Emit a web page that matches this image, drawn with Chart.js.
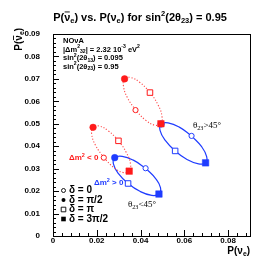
<!DOCTYPE html>
<html>
<head>
<meta charset="utf-8">
<script src="https://cdn.jsdelivr.net/npm/chart.js@4.4.1/dist/chart.umd.min.js"></script>
<style>
html, body { margin: 0; padding: 0; background: #fff; }
#wrap { width: 268px; height: 273px; }
</style>
</head>
<body>
<div id="wrap"><canvas id="nova" width="268" height="273"></canvas></div>
<script>
// values; each trace starts at delta = 0 and steps 30 degrees
const deltaLabels = ["δ = 0", "δ = π/2", "δ = π", "δ = 3π/2"];
const xTicks = [0, 0.02, 0.04, 0.06, 0.08];
const xTickLabels = ["0", "0.02", "0.04", "0.06", "0.08"];
const yTicks = [0, 0.01, 0.02, 0.03, 0.04, 0.05, 0.06, 0.07, 0.08, 0.09];
const yTickLabels = ["0", "0.01", "0.02", "0.03", "0.04", "0.05", "0.06", "0.07", "0.08", "0.09"];

// inverted hierarchy (red, dotted)
const redUpperX = [0.0377, 0.0340, 0.0322, 0.0327, 0.0355, 0.0397, 0.0443, 0.0480, 0.0498, 0.0493, 0.0465, 0.0423];
const redUpperY = [0.0561, 0.0616, 0.0667, 0.0700, 0.0706, 0.0684, 0.0639, 0.0584, 0.0533, 0.0500, 0.0494, 0.0516];
const redLowerX = [0.0232, 0.0195, 0.0177, 0.0183, 0.0211, 0.0253, 0.0299, 0.0336, 0.0354, 0.0348, 0.0320, 0.0278];
const redLowerY = [0.0349, 0.0403, 0.0452, 0.0484, 0.0490, 0.0468, 0.0424, 0.0370, 0.0321, 0.0289, 0.0283, 0.0305];
// normal hierarchy (blue, solid)
const blueLowerX = [0.0423, 0.0367, 0.0316, 0.0282, 0.0276, 0.0298, 0.0343, 0.0399, 0.0451, 0.0484, 0.0491, 0.0468];
const blueLowerY = [0.0302, 0.0338, 0.0355, 0.0349, 0.0321, 0.0279, 0.0234, 0.0198, 0.0181, 0.0187, 0.0215, 0.0257];
const blueUpperX = [0.0633, 0.0577, 0.0526, 0.0494, 0.0489, 0.0512, 0.0558, 0.0614, 0.0665, 0.0697, 0.0702, 0.0679];
const blueUpperY = [0.0446, 0.0485, 0.0504, 0.0499, 0.0471, 0.0427, 0.0379, 0.0340, 0.0321, 0.0326, 0.0354, 0.0398];

const RED = "#ff1a1a";
const BLUE = "#1f3cff";
const deltaIdx = [0, 3, 6, 9]; // delta = 0, pi/2, pi, 3pi/2

function toPts(xs, ys) {
    return xs.map((x, i) => ({ x: x, y: ys[i] }));
}

function curve(xs, ys, color, dashed) {
    const pts = toPts(xs, ys);
    return {
        data: pts.concat([pts[0]]),
        showLine: true,
        borderColor: dashed ? "#ff4a4a" : color,
        borderWidth: dashed ? 1.1 : 1.2,
        borderDash: dashed ? [1.2, 1.8] : [],
        tension: 0.45,
        pointRadius: 0,
        fill: false,
        order: 5
    };
}

function markers(xs, ys, color, order) {
    const pts = toPts(xs, ys);
    return {
        data: deltaIdx.map(i => pts[i]),
        showLine: false,
        pointStyle: ["circle", "circle", "rect", "rect"],
        pointRadius: [2.6, 3.3, 3.9, 4.6],
        pointBackgroundColor: ["#fff", color, "#fff", color],
        pointBorderColor: color,
        pointBorderWidth: [1, 0.5, 1, 0.5],
        order: order
    };
}

// draw text with sub/superscripts; parts = [[text, kind], ...]
function rich(ctx, parts, x, y, size, family, weight, align, color) {
    const small = size * 0.68;
    const fontOf = k => weight + " " + (k === "sub" || k === "sup" ? small : size) + "px " + family;
    let w = 0;
    parts.forEach(p => { ctx.font = fontOf(p[1]); w += ctx.measureText(p[0]).width; });
    let cx = align === "right" ? x - w : align === "center" ? x - w / 2 : x;
    ctx.fillStyle = color || "#000";
    ctx.strokeStyle = color || "#000";
    ctx.textBaseline = "middle";
    ctx.textAlign = "left";
    parts.forEach(p => {
        ctx.font = fontOf(p[1]);
        let dy = 0;
        if (p[1] === "sub") dy = size * 0.3;
        if (p[1] === "sup") dy = -size * 0.35;
        ctx.fillText(p[0], cx, y + dy);
        const pw = ctx.measureText(p[0]).width;
        if (p[1] === "bar") {
            ctx.lineWidth = 0.9;
            ctx.beginPath();
            ctx.moveTo(cx + 0.5, y - size * 0.55);
            ctx.lineTo(cx + pw - 0.5, y - size * 0.55);
            ctx.stroke();
        }
        cx += pw;
    });
}

const sans = "'Liberation Sans', Arial, sans-serif";
const serif = "'Liberation Serif', 'Times New Roman', serif";

const decor = {
    id: "decor",
    afterDraw(chart) {
        const ctx = chart.ctx;
        const a = chart.chartArea;
        const xs = chart.scales.x, ys = chart.scales.y;
        ctx.save();
        // frame
        ctx.strokeStyle = "#000";
        ctx.lineWidth = 1;
        ctx.strokeRect(Math.round(a.left) + 0.5, Math.round(a.top) + 0.5,
            Math.round(a.right - a.left), Math.round(a.bottom - a.top));
        // inward ticks
        ctx.beginPath();
        for (let k = 0; k <= 22; k++) {
            const v = k * 0.004;
            const px = Math.round(xs.getPixelForValue(v)) + 0.5;
            ctx.moveTo(px, a.bottom);
            ctx.lineTo(px, a.bottom - (k % 5 === 0 ? 6 : 3));
        }
        for (let k = 0; k <= 45; k++) {
            const v = k * 0.002;
            const py = Math.round(ys.getPixelForValue(v)) + 0.5;
            ctx.moveTo(a.left, py);
            ctx.lineTo(a.left + (k % 5 === 0 ? 6 : 3), py);
        }
        ctx.stroke();

        // tick labels
        ctx.fillStyle = "#000";
        ctx.font = "bold 8px " + sans;
        ctx.textBaseline = "middle";
        ctx.textAlign = "center";
        xTicks.forEach((v, i) => ctx.fillText(xTickLabels[i], xs.getPixelForValue(v), a.bottom + 5));
        ctx.textAlign = "right";
        yTicks.forEach((v, i) => ctx.fillText(yTickLabels[i], a.left - 13, ys.getPixelForValue(v)));

        // title
        rich(ctx, [["P(", ""], ["ν", "bar"], ["e", "sub"], [") vs. P(ν", ""], ["e", "sub"],
            [") for sin", ""], ["2", "sup"], ["(2θ", ""], ["23", "sub"], [") = 0.95", ""]],
            140, 18, 11, sans, "bold", "center");
        // axis titles
        rich(ctx, [["P(ν", ""], ["e", "sub"], [")", ""]], 250, 251, 10, sans, "bold", "right");
        ctx.save();
        ctx.translate(19, 28);
        ctx.rotate(-Math.PI / 2);
        rich(ctx, [["P(", ""], ["ν", "bar"], ["e", "sub"], [")", ""]], 0, 0, 10, sans, "bold", "right");
        ctx.restore();

        // parameter box
        rich(ctx, [["NOνA", ""]], 63, 41, 7.5, sans, "bold", "left");
        rich(ctx, [["|Δm", ""], ["2", "sup"], ["32", "sub"], ["| = 2.32 10", ""], ["-3", "sup"], [" eV", ""], ["2", "sup"]],
            63, 49.5, 7.5, sans, "bold", "left");
        rich(ctx, [["sin", ""], ["2", "sup"], ["(2θ", ""], ["13", "sub"], [") = 0.095", ""]], 63, 58, 7.5, sans, "bold", "left");
        rich(ctx, [["sin", ""], ["2", "sup"], ["(2θ", ""], ["23", "sub"], [") = 0.95", ""]], 63, 66.5, 7.5, sans, "bold", "left");

        // curve annotations
        rich(ctx, [["Δm", ""], ["2", "sup"], [" < 0", ""]], 69, 158, 8, sans, "bold", "left", RED);
        rich(ctx, [["Δm", ""], ["2", "sup"], [" > 0", ""]], 94, 183, 8, sans, "bold", "left", BLUE);
        rich(ctx, [["θ", ""], ["23", "sub"], [">45°", ""]], 193, 126, 9, serif, "normal", "left");
        rich(ctx, [["θ", ""], ["23", "sub"], ["<45°", ""]], 128, 205, 9, serif, "normal", "left");

        // delta legend
        const rowsY = [190.5, 200, 209.5, 219];
        ctx.fillStyle = "#000";
        ctx.strokeStyle = "#000";
        ctx.lineWidth = 0.9;
        rowsY.forEach((ry, i) => {
            const mx = 63.5;
            ctx.beginPath();
            if (i < 2) ctx.arc(mx, ry, 2, 0, Math.PI * 2);
            else ctx.rect(mx - 2.3, ry - 2.3, 4.6, 4.6);
            if (i % 2 === 1) ctx.fill(); else ctx.stroke();
            rich(ctx, [[deltaLabels[i], ""]], 69, ry, 10, sans, "bold", "left");
        });
        ctx.restore();
    }
};

new Chart(document.getElementById("nova"), {
    type: "scatter",
    data: {
        datasets: [
            curve(redUpperX, redUpperY, RED, true),
            curve(redLowerX, redLowerY, RED, true),
            curve(blueLowerX, blueLowerY, BLUE, false),
            curve(blueUpperX, blueUpperY, BLUE, false),
            markers(blueLowerX, blueLowerY, BLUE, 3),
            markers(blueUpperX, blueUpperY, BLUE, 3),
            markers(redUpperX, redUpperY, RED, 1),
            markers(redLowerX, redLowerY, RED, 1)
        ]
    },
    options: {
        responsive: false,
        animation: false,
        layout: { padding: { top: 34, right: 18, bottom: 0, left: 0 } },
        plugins: {
            legend: { display: false },
            tooltip: { enabled: false },
            title: { display: false }
        },
        scales: {
            x: {
                type: "linear",
                min: 0,
                max: 0.09,
                grid: { display: false, drawTicks: false },
                border: { display: false },
                afterBuildTicks: s => { s.ticks = xTicks.map(v => ({ value: v })); },
                afterFit: s => { s.height = 37; },
                ticks: { display: false }
            },
            y: {
                type: "linear",
                min: 0,
                max: 0.09,
                grid: { display: false, drawTicks: false },
                border: { display: false },
                afterBuildTicks: s => { s.ticks = yTicks.map(v => ({ value: v })); },
                afterFit: s => { s.width = 53; },
                ticks: { display: false }
            }
        }
    },
    plugins: [decor]
});
</script>
</body>
</html>
